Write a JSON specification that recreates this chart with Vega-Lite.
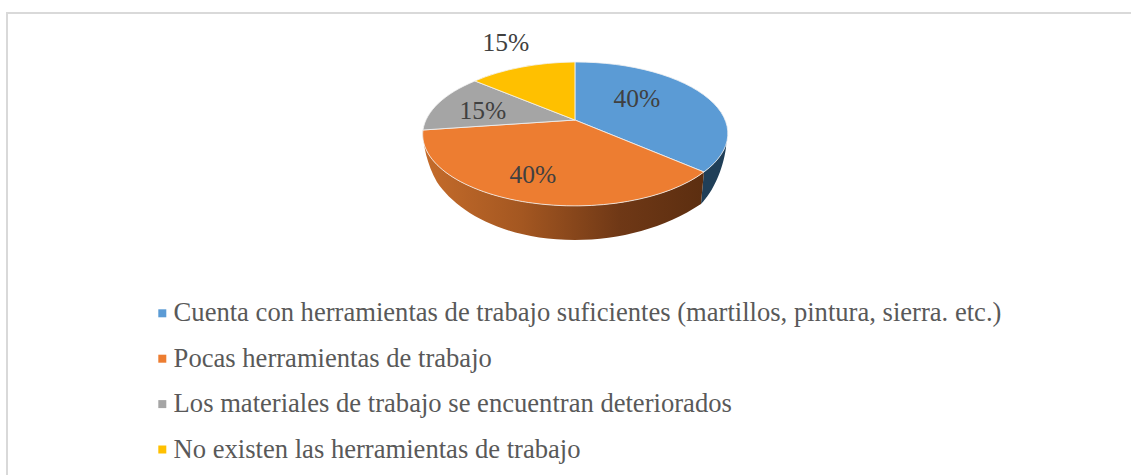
{
  "$schema": "https://vega.github.io/schema/vega-lite/v6.json",
  "width": 1140,
  "height": 480,
  "padding": {"left": 7, "top": 13, "right": 0, "bottom": 0},
  "autosize": {"type": "none"},
  "background": "white",
  "view": {"stroke": "#d9d9d9", "strokeWidth": 2, "fill": "white"},
  "data": {"values": [
    {"categoria": "Cuenta con herramientas de trabajo suficientes (martillos, pintura, sierra. etc.)", "porcentaje": 40, "etiqueta": "40%"},
    {"categoria": "Pocas herramientas de trabajo", "porcentaje": 40, "etiqueta": "40%"},
    {"categoria": "Los materiales de trabajo se encuentran deteriorados", "porcentaje": 15, "etiqueta": "15%"},
    {"categoria": "No existen las herramientas de trabajo", "porcentaje": 15, "etiqueta": "15%"}
  ]},
  "encoding": {
    "x": {"datum": 0.4982, "type": "quantitative", "scale": {"domain": [0, 1]}, "axis": null},
    "y": {"datum": 0.2229, "type": "quantitative", "scale": {"domain": [1, 0]}, "axis": null}
  },
  "layer": [
    {
      "transform": [{"filter": "datum.categoria == 'Cuenta con herramientas de trabajo suficientes (martillos, pintura, sierra. etc.)'"}],
      "mark": {"type": "point", "filled": true, "opacity": 1, "size": 4, "fill": "#203f58", "shape": "M129 52A152 71.5 0 0 0 152 13.5L151 28C148 50 138 72 126 84Z"}
    },
    {
      "transform": [{"filter": "datum.categoria == 'Pocas herramientas de trabajo'"}],
      "mark": {"type": "point", "filled": true, "opacity": 1, "size": 4,
        "fill": {"gradient": "linear", "x1": 0, "y1": 0, "x2": 1, "y2": 0, "stops": [
          {"offset": 0, "color": "#c56c2b"},
          {"offset": 0.35, "color": "#a45721"},
          {"offset": 0.7, "color": "#6f3816"},
          {"offset": 1, "color": "#5c2e10"}
        ]},
        "shape": "M-152 10A152 71.5 0 0 0 129 52L126 84C90 108 45 120 0 120C-70 120 -118 92 -138 62C-148 44 -152 25 -152 10Z"}
    },
    {
      "transform": [{"filter": "datum.categoria == 'Cuenta con herramientas de trabajo suficientes (martillos, pintura, sierra. etc.)'"}],
      "mark": {"type": "point", "filled": true, "opacity": 1, "size": 4, "stroke": "#f2f2f2", "strokeWidth": 0.8, "shape": "M0 0L0 -58A152 71.5 0 0 1 129 52Z"},
      "encoding": {
        "color": {"field": "categoria", "type": "nominal", "scale": {
          "domain": [
            "Cuenta con herramientas de trabajo suficientes (martillos, pintura, sierra. etc.)",
            "Pocas herramientas de trabajo",
            "Los materiales de trabajo se encuentran deteriorados",
            "No existen las herramientas de trabajo"
          ],
          "range": ["#5b9bd5", "#ed7d31", "#a5a5a5", "#ffc000"]
        }, "legend": {
          "title": null, "orient": "none", "legendX": 142, "legendY": 287,
          "symbolType": "square", "symbolSize": 64, "symbolStrokeWidth": 0, "symbolOpacity": 1,
          "labelFont": "Liberation Serif", "labelFontSize": 26.6, "labelColor": "#595959", "labelLimit": 1000, "labelOffset": -2,
          "rowPadding": 18.4, "padding": 0,
          "encode": {"symbols": {"update": {"shape": {"value": "square"}, "size": {"value": 64}, "strokeWidth": {"value": 0}}}}
        }}
      }
    },
    {
      "transform": [{"filter": "datum.categoria == 'Pocas herramientas de trabajo'"}],
      "mark": {"type": "point", "filled": true, "opacity": 1, "size": 4, "stroke": "#f2f2f2", "strokeWidth": 0.8, "shape": "M0 0L129 52A152 71.5 0 0 1 -152 10Z"},
      "encoding": {"color": {"field": "categoria", "type": "nominal"}}
    },
    {
      "transform": [{"filter": "datum.categoria == 'Los materiales de trabajo se encuentran deteriorados'"}],
      "mark": {"type": "point", "filled": true, "opacity": 1, "size": 4, "stroke": "#f2f2f2", "strokeWidth": 0.8, "shape": "M0 0L-152 10A152 71.5 0 0 1 -100 -39Z"},
      "encoding": {"color": {"field": "categoria", "type": "nominal"}}
    },
    {
      "transform": [{"filter": "datum.categoria == 'No existen las herramientas de trabajo'"}],
      "mark": {"type": "point", "filled": true, "opacity": 1, "size": 4, "stroke": "#f2f2f2", "strokeWidth": 0.8, "shape": "M0 0L-100 -39A152 71.5 0 0 1 0 -58Z"},
      "encoding": {"color": {"field": "categoria", "type": "nominal"}}
    },
    {
      "transform": [{"filter": "datum.categoria == 'Cuenta con herramientas de trabajo suficientes (martillos, pintura, sierra. etc.)'"}],
      "mark": {"type": "text", "font": "Liberation Serif", "fontSize": 25.5, "color": "#404040", "dx": 62, "dy": -21},
      "encoding": {"text": {"field": "etiqueta"}}
    },
    {
      "transform": [{"filter": "datum.categoria == 'Pocas herramientas de trabajo'"}],
      "mark": {"type": "text", "font": "Liberation Serif", "fontSize": 25.5, "color": "#404040", "dx": -42, "dy": 55},
      "encoding": {"text": {"field": "etiqueta"}}
    },
    {
      "transform": [{"filter": "datum.categoria == 'Los materiales de trabajo se encuentran deteriorados'"}],
      "mark": {"type": "text", "font": "Liberation Serif", "fontSize": 25.5, "color": "#404040", "dx": -92, "dy": -9},
      "encoding": {"text": {"field": "etiqueta"}}
    },
    {
      "transform": [{"filter": "datum.categoria == 'No existen las herramientas de trabajo'"}],
      "mark": {"type": "text", "font": "Liberation Serif", "fontSize": 25.5, "color": "#404040", "dx": -69, "dy": -77},
      "encoding": {"text": {"field": "etiqueta"}}
    }
  ]
}
